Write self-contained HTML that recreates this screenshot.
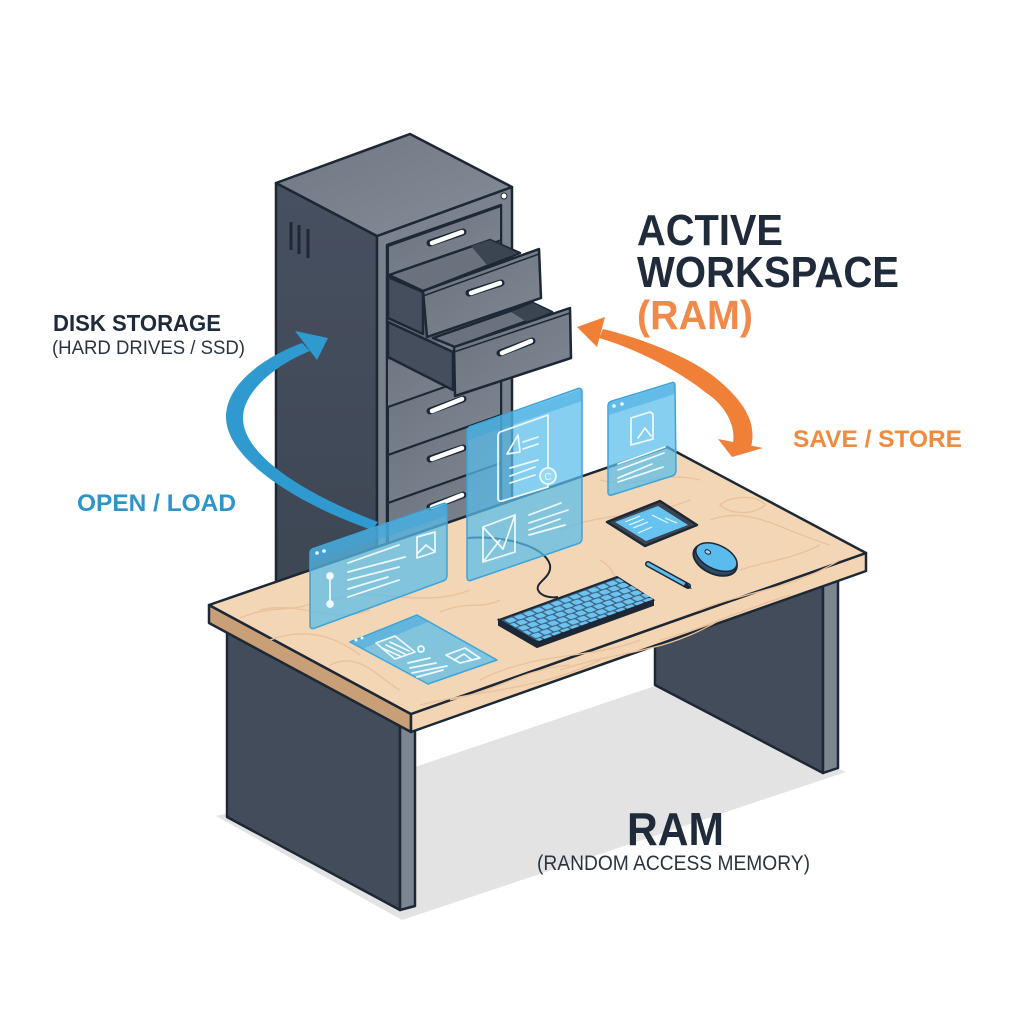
<!DOCTYPE html>
<html><head><meta charset="utf-8"><style>html,body{margin:0;padding:0;background:#fff}svg{display:block}text{font-family:"Liberation Sans",sans-serif}</style></head><body>
<svg width="1024" height="1024" viewBox="0 0 1024 1024" xmlns="http://www.w3.org/2000/svg">
<defs>
<linearGradient id="top" x1="0" y1="0" x2="1" y2="1"><stop offset="0" stop-color="#6f7784"/><stop offset="1" stop-color="#858d98"/></linearGradient>
<linearGradient id="side" x1="0" y1="0" x2="0" y2="1"><stop offset="0" stop-color="#475060"/><stop offset="1" stop-color="#3d4653"/></linearGradient>
<linearGradient id="fr" x1="0" y1="0" x2="1" y2="1"><stop offset="0" stop-color="#6a727e"/><stop offset="1" stop-color="#808894"/></linearGradient>
<pattern id="keys" width="8" height="36" patternUnits="userSpaceOnUse"><rect x=".7" y="1.5" width="6.6" height="15" rx="2" fill="#6cc3ee"/><rect x="-3.3" y="19.5" width="6.6" height="15" rx="2" fill="#6cc3ee"/><rect x="4.7" y="19.5" width="6.6" height="15" rx="2" fill="#6cc3ee"/></pattern>
</defs>
<rect width="1024" height="1024" fill="#fff"/>
<!-- shadow -->
<polygon points="415,767 655,686 846,772 402,920 216,816" fill="#e3e3e4"/>
<!-- cabinet -->
<g stroke="#1d2836" stroke-width="2.5" stroke-linejoin="round">
<polygon points="276,183 377,236 377,600 276,600" fill="url(#side)"/>
<polygon points="377,236 512,187 512,520 377,570" fill="#7a828e"/>
<polygon points="276,183 410,134 512,187 377,236" fill="url(#top)"/>
<polygon points="387,245 501,205 501,520 387,560" fill="#636b77"/>
<polygon points="388,246 501,206 501,240 388,282" fill="url(#fr)" stroke-width="2"/>
<polygon points="388,360 501,320 501,367 388,407" fill="url(#fr)" stroke="none"/>
<polygon points="388,407 501,367 501,415 388,455" fill="url(#fr)" stroke-width="2"/>
<polygon points="388,455 501,415 501,463 388,503" fill="url(#fr)" stroke-width="2"/>
<polygon points="388,503 501,463 501,511 388,551" fill="url(#fr)" stroke-width="2"/>
<!-- drawer 1 -->
<polygon points="389,275 490,240 520,253 423,291" fill="#6a727e"/>
<polygon points="471,246 490,240 518,253 487,265" fill="#3b4451" stroke="none"/>
<polygon points="388,277 423,292 423,334 388,318" fill="#454e5c"/>
<polygon points="423,291 539,249 541,298 427,337" fill="url(#fr)"/>
<line x1="423" y1="296" x2="539" y2="254" stroke-width="1.5"/>
<!-- drawer 2 -->
<polygon points="433,338 533,303 552,312 455,347" fill="#6a727e"/>
<polygon points="511,312 533,303 551,312 527,322" fill="#3b4451" stroke="none"/>
<polygon points="388,322 453,352 453,390 388,357" fill="#454e5c"/>
<polygon points="454,347 570,308 571,358 455,396" fill="url(#fr)"/>
<line x1="454" y1="352" x2="570" y2="313" stroke-width="1.5"/>
</g>
<g stroke="#1d2836" stroke-width="3" fill="none"><line x1="291" y1="222" x2="291" y2="250"/><line x1="299" y1="225" x2="299" y2="254"/><line x1="308" y1="229" x2="308" y2="258"/></g>
<circle cx="504" cy="196" r="3" fill="#fff" stroke="#1d2836" stroke-width="1"/>
<g stroke="#1d2836" stroke-width="7" stroke-linecap="round"><line x1="430" y1="243" x2="463" y2="232"/><line x1="469" y1="293" x2="501" y2="283"/><line x1="500" y1="353" x2="532" y2="341"/><line x1="430" y1="411" x2="463" y2="399"/><line x1="430" y1="459" x2="463" y2="448"/><line x1="430" y1="507" x2="463" y2="495"/></g>
<g stroke="#fff" stroke-width="4.5" stroke-linecap="round"><line x1="432" y1="243" x2="462" y2="232"/><line x1="471" y1="293" x2="500" y2="283"/><line x1="502" y1="353" x2="531" y2="341"/><line x1="432" y1="411" x2="462" y2="399"/><line x1="432" y1="459" x2="462" y2="448"/><line x1="432" y1="507" x2="462" y2="495"/></g>
<!-- blue arrow -->
<path d="M302,343 C262,358 226,385 226,417 C226,460 300,505 372,530 L378,522 C320,500 243,460 243,418 C243,392 275,365 310,351 Z" fill="#2f9ad0"/>
<polygon points="328,338 295,331 317,360" fill="#2f9ad0"/>
<!-- orange arrow -->
<path d="M603,329 C640,338 685,355 712,375 C740,397 758,420 751,447 L733,443 C736,425 725,405 705,392 C680,372 640,350 599,338 Z" fill="#f07f38"/>
<polygon points="577,327 605,317 597,347" fill="#f07f38"/>
<polygon points="718,439 763,448 732,457" fill="#f07f38"/>
<!-- desk legs -->
<g stroke="#1d2836" stroke-width="2.5" stroke-linejoin="round">
<polygon points="655,610 823,570 823,773 655,685" fill="#434c5a"/>
<polygon points="823,583 838,578 838,768 823,773" fill="#7d8591"/>
<polygon points="227,630 400,722 400,910 227,817" fill="#434c5a"/>
<polygon points="400,725 415,722 415,906 400,910" fill="#7d8591"/>
<!-- desk -->
<polygon points="209,605 411,714 411,732 209,623" fill="#c99f78"/>
<polygon points="411,714 866,553 866,571 411,732" fill="#f3d5b3"/>
<polygon points="209,605 667,447 866,553 411,714" fill="#f3d6b6"/>
</g>
<g fill="none" stroke="#e9c19b" stroke-width="1.3">
<path d="M330,600 C380,585 420,610 470,590"/><path d="M260,610 C300,600 330,625 370,610"/><path d="M560,530 C610,510 640,520 690,500"/>
<path d="M600,480 C640,490 660,470 700,480"/><path d="M710,520 C750,505 780,530 830,545"/><path d="M480,680 C540,650 590,660 640,640"/>
<path d="M560,670 C620,650 660,655 720,620"/><path d="M700,610 C750,590 790,590 840,560"/><path d="M720,505 C730,495 760,495 765,505 C755,515 730,515 720,505Z"/>
<path d="M450,700 C500,690 520,670 570,665"/><path d="M600,560 C620,570 610,590 640,590"/><path d="M270,640 C310,625 340,640 360,655"/>
<path d="M240,618 C270,605 290,612 310,604"/><path d="M330,665 C360,650 380,680 400,690"/><path d="M500,600 C480,610 470,600 440,612"/>
<path d="M740,570 C770,560 790,560 820,545"/><path d="M660,640 C700,630 740,610 790,595"/><path d="M420,705 C480,690 540,690 600,660"/>
</g>
<!-- cable -->
<path d="M467,538 C500,535 545,545 550,565 C552,578 535,582 538,590 C541,597 552,598 558,597" fill="none" stroke="#1d2836" stroke-width="2"/>
<!-- keyboard -->
<polygon points="499,625 537,647 653,605 653,600 537,642 499,620" fill="#1d2836" stroke="#1d2836" stroke-width="2"/>
<polygon points="499,620 617,577 653,600 537,642" fill="#3c6283" stroke="#1d2836" stroke-width="2"/>
<g transform="matrix(1.15,-.42,.36,.21,503,620)"><rect x="0" y="0" width="100" height="100" fill="url(#keys)"/></g>
<!-- tablet -->
<polygon points="607,522 660,501 697,525 645,546" fill="#3b4451" stroke="#1d2836" stroke-width="2.5" stroke-linejoin="round"/>
<polygon points="615,522 658,506 688,525 646,541" fill="#66c2ee"/>
<g stroke="#e9f7ff" stroke-width="1.2"><line x1="625" y1="522" x2="640" y2="516"/><line x1="629" y1="525" x2="644" y2="519"/><line x1="633" y1="528" x2="648" y2="522"/><line x1="652" y1="515" x2="668" y2="523"/><line x1="665" y1="518" x2="677" y2="523"/><line x1="638" y1="533" x2="652" y2="527"/></g>
<!-- mouse -->
<g transform="rotate(25 716 558)"><ellipse cx="716" cy="560" rx="23" ry="14" fill="#2f4a63" stroke="#1d2836" stroke-width="2"/><ellipse cx="716" cy="557" rx="22" ry="12" fill="#5bbbec" stroke="#1d2836" stroke-width="1.5"/><ellipse cx="706" cy="556" rx="3" ry="2" fill="#a8d8ef" stroke="#1d2836"/></g>
<!-- pen -->
<line x1="648" y1="564" x2="688" y2="586" stroke="#1d2836" stroke-width="6" stroke-linecap="round"/>
<line x1="648" y1="564" x2="688" y2="586" stroke="#5bbbec" stroke-width="3" stroke-linecap="round"/>
<polygon points="686,582 692,589 683,587" fill="#1d2836"/>
<!-- panels -->
<g fill="#58bcec" fill-opacity=".72" stroke="#3ea4d8" stroke-width="1.5" stroke-linejoin="round">
<path d="M315,548 L442,504 Q447,502 447,507 L447,575 Q447,580 443,581 L315,628 Q310,630 310,625 L310,553 Q310,549 315,548Z"/>
<path d="M472,426 L577,389 Q582,387 582,392 L582,538 Q582,543 577,544 L472,580 Q467,582 467,577 L467,431 Q467,427 472,426Z"/>
<path d="M612,401 L671,383 Q675,381 675,386 L676,470 Q676,475 672,476 L612,495 Q608,496 608,492 L608,406 Q608,402 612,401Z"/>
<polygon points="350,642 417,615 497,660 428,684"/>
</g>
<g fill="#3aa5dc" fill-opacity=".45">
<polygon points="311,550 447,504 447,516 311,562"/>
<polygon points="468,428 582,389 582,401 468,440"/>
<polygon points="609,403 675,383 675,394 609,415"/>
<polygon points="351,642 417,616 428,622 362,649"/>
</g>
<g fill="none" stroke="#eef9ff" stroke-width="1.7" stroke-linecap="round" stroke-linejoin="round">
<!-- left -->
<line x1="348" y1="563" x2="399" y2="545"/><line x1="348" y1="572" x2="405" y2="557"/><line x1="348" y1="580" x2="399" y2="567"/><line x1="348" y1="589" x2="388" y2="577"/><line x1="348" y1="597" x2="399" y2="580"/>
<line x1="330" y1="575" x2="330" y2="606"/><circle cx="330" cy="576" r="3" fill="#eef9ff"/><circle cx="330" cy="604" r="3" fill="#eef9ff"/>
<polygon points="417,537 435,532 435,552 417,558"/><polyline points="418,553 426,545 434,551"/>
<!-- center -->
<path d="M500,432 L548,415 L548,487 L502,501 Q498,502 498,498 L498,437 Q498,433 500,432Z"/><polygon points="507,454 518,435 520,452"/>
<line x1="523" y1="442" x2="538" y2="437"/><line x1="523" y1="449" x2="538" y2="444"/><line x1="510" y1="468" x2="538" y2="460"/><line x1="510" y1="476" x2="535" y2="467"/><line x1="510" y1="483" x2="535" y2="475"/>
<circle cx="548" cy="476" r="8" fill="#9bd8f4"/><text x="548" y="480" font-size="10" fill="#eef9ff" stroke="none" text-anchor="middle">C</text>
<polygon points="483,527 515,515 515,552 483,562"/><polyline points="483,527 503,549 515,515"/><line x1="483" y1="562" x2="500" y2="540"/>
<line x1="529" y1="515" x2="561" y2="503"/><line x1="529" y1="523" x2="568" y2="510"/><line x1="529" y1="530" x2="560" y2="519"/><line x1="529" y1="535" x2="565" y2="525"/>
<!-- right -->
<polygon points="631,418 650,412 653,414 653,439 631,445"/><polyline points="638,438 645,428 651,436"/>
<line x1="618" y1="464" x2="665" y2="447"/><line x1="618" y1="470" x2="664" y2="453"/><line x1="618" y1="478" x2="652" y2="464"/><line x1="618" y1="482" x2="663" y2="467"/>
<!-- flat -->
<polygon points="376,643 395,636 415,652 395,659"/><line x1="386" y1="645" x2="405" y2="654"/><line x1="390" y1="642" x2="409" y2="651"/><line x1="382" y1="648" x2="400" y2="656"/>
<circle cx="421" cy="649" r="3"/><polygon points="446,655 465,648 480,658 460,663"/><polyline points="454,660 464,654 472,660"/>
<line x1="408" y1="663" x2="430" y2="658"/><line x1="410" y1="668" x2="436" y2="663"/><line x1="412" y1="673" x2="447" y2="666"/><line x1="417" y1="677" x2="443" y2="670"/>
</g>
<g fill="#eef9ff"><circle cx="317" cy="553" r="1.8"/><circle cx="324" cy="551" r="1.8"/><circle cx="614" cy="406" r="1.8"/><circle cx="622" cy="404" r="1.8"/><circle cx="356" cy="640" r="1.5"/><circle cx="362" cy="638" r="1.5"/></g>
<!-- labels -->
<g font-weight="bold" fill="#1f2b3a">
<text x="637" y="245" font-size="44" textLength="146" lengthAdjust="spacingAndGlyphs">ACTIVE</text>
<text x="637" y="287" font-size="44" textLength="262" lengthAdjust="spacingAndGlyphs">WORKSPACE</text>
<text x="53" y="331" font-size="23" textLength="168" lengthAdjust="spacingAndGlyphs">DISK STORAGE</text>
<text x="627" y="845" font-size="46" textLength="97" lengthAdjust="spacingAndGlyphs">RAM</text>
</g>
<text x="637" y="329" font-size="41" font-weight="bold" fill="#f08a4b" textLength="116" lengthAdjust="spacingAndGlyphs">(RAM)</text>
<text x="52" y="354" font-size="19" fill="#2a3441" textLength="193" lengthAdjust="spacingAndGlyphs">(HARD DRIVES / SSD)</text>
<text x="77" y="511" font-size="24" font-weight="bold" fill="#2f94c8" textLength="159" lengthAdjust="spacingAndGlyphs">OPEN / LOAD</text>
<text x="793" y="447" font-size="24" font-weight="bold" fill="#f08a3e" textLength="169" lengthAdjust="spacingAndGlyphs">SAVE / STORE</text>
<text x="537" y="870" font-size="21" fill="#2a3441" textLength="273" lengthAdjust="spacingAndGlyphs">(RANDOM ACCESS MEMORY)</text>
</svg>
</body></html>
